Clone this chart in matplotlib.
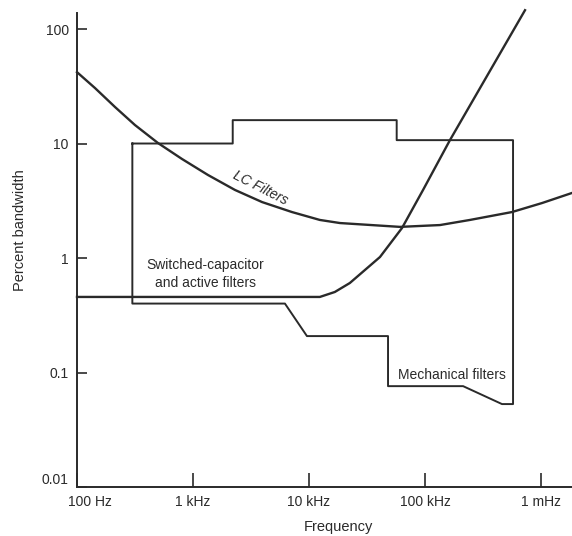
import numpy as np
import matplotlib.pyplot as plt
import matplotlib.transforms as mtransforms

plt.rcParams['font.family'] = ['Liberation Sans', 'DejaVu Sans']

# LC filters curve (frequency in Hz, percent bandwidth)
lc_freq = [100, 143, 213, 316, 499, 803, 1346, 2300, 3940, 7130, 12400,
           18500, 60800, 134600, 244000, 562000, 1020000, 1850000]
lc_pct = [42, 30.5, 20.8, 14.5, 10.1, 7.33, 5.31, 3.93, 3.08, 2.52, 2.15,
          2.02, 1.87, 1.94, 2.15, 2.52, 3.02, 3.7]

# switched-capacitor and active filters
sc_freq = [100, 12400, 16700, 22500, 40900, 63400, 96200, 164000, 728000]
sc_pct = [0.457, 0.457, 0.505, 0.605, 1.02, 1.83, 3.93, 10.7, 146]

# mechanical filters region (closed outline)
mech_freq = [300, 2200, 2200, 57000, 57000, 574000, 574000, 461000, 213000,
             48000, 48000, 9600, 6200, 300, 300]
mech_pct = [10, 10, 16, 16, 10.7, 10.7, 0.053, 0.053, 0.076,
            0.076, 0.208, 0.208, 0.40, 0.40, 10]

xticks = [1e2, 1e3, 1e4, 1e5, 1e6]
xlabels = ['100 Hz', '1 kHz', '10 kHz', '100 kHz', '1 mHz']
yticks = [0.01, 0.1, 1, 10, 100]
ylabels = ['0.01', '0.1', '1', '10', '100']

ink = '#2a2a2a'

fig = plt.figure(figsize=(5.72, 5.36), dpi=100)
ax = fig.add_axes([77/572, 49/536, 495/572, 474/536])
ax.set_xscale('log')
ax.set_yscale('log')
ax.set_xlim(100, 1.85e6)
ax.set_ylim(0.01, 138)

ax.plot(lc_freq, lc_pct, color=ink, lw=1.7, clip_on=False)
ax.plot(sc_freq, sc_pct, color=ink, lw=1.7, clip_on=False)
ax.plot(mech_freq, mech_pct, color=ink, lw=1.4)

for s in ['top', 'right']:
    ax.spines[s].set_visible(False)
for s in ['left', 'bottom']:
    ax.spines[s].set_color(ink)
    ax.spines[s].set_linewidth(1.4)

ax.set_xticks(xticks)
ax.set_xticklabels(xlabels)
ax.set_yticks(yticks)
ax.set_yticklabels(ylabels)
ax.minorticks_off()
ax.tick_params(axis='x', direction='in', length=10, width=1.2, color=ink,
               labelsize=10, labelcolor=ink, pad=6)
ax.tick_params(axis='y', direction='in', length=7, width=1.2, color=ink,
               labelsize=10, labelcolor=ink, pad=6)

# nudge the corner labels like the original
lab = ax.get_xticklabels()[0]
lab.set_transform(lab.get_transform() + mtransforms.ScaledTranslation(0.13, 0, fig.dpi_scale_trans))
lab = ax.get_yticklabels()[0]
lab.set_transform(lab.get_transform() + mtransforms.ScaledTranslation(0, 0.09, fig.dpi_scale_trans))

ax.text(3800, 4.1, 'LC Filters', style='italic', fontsize=10, color=ink,
        rotation=-27, ha='center', va='center', rotation_mode='anchor')
ax.text(1270, 0.724, 'Switched-capacitor\nand active filters', fontsize=10,
        color=ink, ha='center', va='center', multialignment='center', linespacing=1.3)
ax.text(171000, 0.095, 'Mechanical filters', fontsize=10, color=ink,
        ha='center', va='center')

fig.text(20/572, 1 - 230/536, 'Percent bandwidth', rotation=90, fontsize=10.5,
         color=ink, ha='center', va='center')
fig.text(338/572, 1 - 527/536, 'Frequency', fontsize=10.5, color=ink,
         ha='center', va='center')

fig.savefig('out.png', dpi=100)
